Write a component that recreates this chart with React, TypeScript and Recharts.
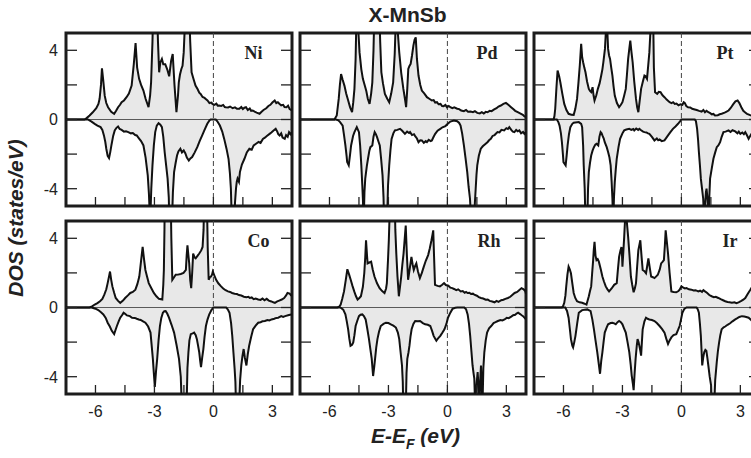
import React from 'react';
import { ComposedChart, Area, Line, XAxis, YAxis, ReferenceLine, ReferenceArea } from 'recharts';

type Pt = [number, number];

// ---------- data: [E - E_F (eV), DOS (states/eV)] ----------
const niUp: Pt[] = [[-7.5,0],[-6.56,0],[-6.45,0.08],[-6.3,0.23],[-6.15,0.4],[-5.96,0.65],[-5.85,0.9],[-5.79,1.2],[-5.72,2.0],[-5.67,2.96],[-5.6,2.2],[-5.53,1.38],[-5.45,0.95],[-5.36,0.71],[-5.2,0.45],[-5.05,0.33],[-4.95,0.5],[-4.85,0.71],[-4.75,0.85],[-4.67,1.0],[-4.55,1.1],[-4.42,1.29],[-4.3,1.5],[-4.16,1.96],[-4.05,3.2],[-3.96,4.42],[-3.88,3.0],[-3.78,2.35],[-3.68,2.0],[-3.56,1.67],[-3.45,1.2],[-3.3,0.71],[-3.22,1.4],[-3.17,2.15],[-3.1,4.5],[-3.05,7],[-2.88,7],[-2.82,4.5],[-2.76,2.73],[-2.7,3.3],[-2.62,3.5],[-2.55,3.2],[-2.45,3.2],[-2.35,2.9],[-2.25,2.5],[-2.15,3.4],[-2.07,3.79],[-1.98,2.0],[-1.88,0.42],[-1.8,1.4],[-1.76,2.15],[-1.7,2.6],[-1.63,2.92],[-1.57,3.1],[-1.51,3.88],[-1.45,5.5],[-1.39,7],[-1.25,7],[-1.18,4.5],[-1.11,2.73],[-1.0,2.3],[-0.91,1.96],[-0.8,1.75],[-0.72,1.55],[-0.65,1.48],[-0.55,1.3],[-0.45,1.25],[-0.39,1.19],[-0.3,1.1],[-0.2,0.95],[-0.1,0.98],[-0.05,0.9],[0.05,0.85],[0.15,0.92],[0.22,0.8],[0.29,0.81],[0.4,0.78],[0.5,0.84],[0.58,0.72],[0.63,0.71],[0.75,0.7],[0.85,0.75],[0.98,0.65],[1.1,0.7],[1.2,0.62],[1.32,0.62],[1.42,0.72],[1.5,0.6],[1.58,0.68],[1.66,0.71],[1.75,0.55],[1.85,0.64],[1.92,0.5],[2.0,0.52],[2.1,0.45],[2.2,0.4],[2.35,0.33],[2.45,0.45],[2.55,0.55],[2.69,0.65],[2.8,0.78],[2.9,0.85],[3.0,0.98],[3.12,1.1],[3.2,0.95],[3.28,1.0],[3.37,0.9],[3.45,0.82],[3.55,0.85],[3.62,0.72],[3.72,0.71],[3.8,0.8],[3.88,0.6],[4.0,0.52]];
const niDown: Pt[] = [[-7.5,0],[-6.39,0],[-6.2,-0.12],[-6.04,-0.25],[-5.9,-0.35],[-5.74,-0.44],[-5.65,-0.6],[-5.57,-0.92],[-5.5,-1.3],[-5.45,-1.69],[-5.38,-2.1],[-5.31,-2.23],[-5.25,-1.9],[-5.19,-1.5],[-5.1,-0.95],[-5.02,-0.63],[-4.93,-0.48],[-4.85,-0.4],[-4.77,-0.55],[-4.67,-0.6],[-4.55,-0.7],[-4.45,-0.68],[-4.33,-0.73],[-4.2,-0.8],[-4.1,-0.78],[-3.98,-0.9],[-3.9,-0.92],[-3.78,-1.1],[-3.68,-1.25],[-3.56,-1.5],[-3.45,-2.2],[-3.34,-3.23],[-3.28,-4.3],[-3.22,-6],[-3.16,-4.0],[-3.1,-2.65],[-3.03,-1.5],[-2.96,-0.73],[-2.88,-0.35],[-2.79,-0.21],[-2.7,-0.3],[-2.62,-0.44],[-2.55,-1.0],[-2.48,-1.88],[-2.4,-2.7],[-2.33,-3.42],[-2.27,-4.5],[-2.24,-6],[-2.11,-6],[-2.06,-4.2],[-2.0,-3.04],[-1.92,-2.5],[-1.85,-2.08],[-1.78,-1.85],[-1.68,-1.69],[-1.6,-1.9],[-1.51,-1.79],[-1.43,-1.95],[-1.35,-2.2],[-1.25,-2.37],[-1.17,-2.25],[-1.08,-2.17],[-0.95,-1.9],[-0.82,-1.6],[-0.7,-1.25],[-0.57,-0.92],[-0.45,-0.6],[-0.31,-0.25],[-0.2,-0.05],[-0.14,0],[0.12,0],[0.2,-0.1],[0.33,-0.35],[0.45,-0.7],[0.55,-1.12],[0.67,-1.7],[0.77,-2.27],[0.84,-3.1],[0.89,-4.0],[0.94,-6],[1.06,-6],[1.1,-4.8],[1.15,-4.0],[1.19,-3.6],[1.23,-3.42],[1.3,-3.6],[1.35,-3.04],[1.45,-2.6],[1.58,-2.27],[1.7,-1.9],[1.83,-1.69],[1.95,-1.75],[2.05,-1.5],[2.17,-1.4],[2.3,-1.3],[2.4,-1.35],[2.52,-1.12],[2.62,-1.05],[2.72,-0.95],[2.86,-0.83],[2.95,-0.75],[3.05,-0.65],[3.17,-0.54],[3.25,-0.7],[3.3,-0.85],[3.37,-0.92],[3.45,-0.8],[3.52,-1.05],[3.63,-1.12],[3.7,-0.9],[3.78,-1.0],[3.85,-0.73],[3.93,-0.85],[4.0,-0.73]];

const pdUp: Pt[] = [[-7.5,0],[-5.75,0],[-5.63,0.23],[-5.53,1.19],[-5.47,2.0],[-5.41,2.63],[-5.33,2.3],[-5.24,1.96],[-5.15,1.5],[-5.07,1.19],[-4.95,0.7],[-4.85,0.42],[-4.79,1.0],[-4.73,1.77],[-4.67,3.5],[-4.61,7],[-4.55,5.5],[-4.47,3.88],[-4.38,2.9],[-4.3,2.35],[-4.2,1.95],[-4.13,1.67],[-4.05,1.2],[-3.96,0.9],[-3.88,1.5],[-3.82,2.15],[-3.76,4],[-3.7,7],[-3.48,7],[-3.42,4.5],[-3.36,2.73],[-3.28,2.1],[-3.18,1.48],[-3.06,1.2],[-2.96,1.0],[-2.86,1.5],[-2.76,2.15],[-2.68,3.8],[-2.59,7],[-2.52,5],[-2.45,3.88],[-2.35,2.7],[-2.24,1.77],[-2.16,1.2],[-2.1,0.71],[-2.04,1.8],[-1.99,2.92],[-1.93,3.1],[-1.87,3.21],[-1.8,3.7],[-1.73,4.27],[-1.67,4.6],[-1.61,4.75],[-1.55,3.5],[-1.47,2.54],[-1.38,2.0],[-1.3,1.67],[-1.17,1.5],[-1.04,1.29],[-0.92,1.2],[-0.79,1.1],[-0.7,1.12],[-0.62,0.98],[-0.53,1.0],[-0.45,0.88],[-0.35,0.9],[-0.27,0.78],[-0.19,0.77],[-0.1,0.84],[-0.02,0.7],[0.07,0.78],[0.15,0.71],[0.25,0.65],[0.35,0.7],[0.5,0.62],[0.6,0.6],[0.7,0.52],[0.84,0.48],[0.95,0.55],[1.05,0.45],[1.18,0.46],[1.3,0.42],[1.4,0.48],[1.52,0.38],[1.65,0.35],[1.75,0.42],[1.85,0.35],[1.95,0.44],[2.04,0.42],[2.15,0.5],[2.25,0.48],[2.38,0.58],[2.5,0.65],[2.6,0.75],[2.72,0.81],[2.85,0.9],[2.98,0.96],[3.1,0.85],[3.24,0.71],[3.35,0.6],[3.45,0.5],[3.58,0.42],[3.7,0.35],[3.84,0.27],[3.92,0.18],[4.0,0.15]];
const pdDown: Pt[] = [[-7.5,0],[-5.67,0],[-5.55,-0.05],[-5.46,-0.15],[-5.33,-0.35],[-5.26,-0.9],[-5.19,-1.5],[-5.13,-2.1],[-5.1,-2.46],[-5.02,-2.65],[-4.96,-2.1],[-4.9,-1.5],[-4.8,-0.95],[-4.73,-0.73],[-4.61,-0.44],[-4.5,-0.73],[-4.44,-1.5],[-4.38,-2.65],[-4.33,-3.8],[-4.3,-4.58],[-4.26,-6],[-4.22,-4.2],[-4.18,-3.42],[-4.1,-2.7],[-4.04,-2.27],[-3.97,-1.8],[-3.92,-1.6],[-3.82,-1.5],[-3.76,-1.0],[-3.7,-0.73],[-3.64,-0.85],[-3.58,-1.02],[-3.5,-1.3],[-3.44,-1.5],[-3.37,-2.3],[-3.3,-3.23],[-3.25,-4.5],[-3.22,-6],[-3.07,-6],[-3.02,-3.8],[-2.96,-2.65],[-2.9,-1.8],[-2.84,-1.12],[-2.75,-0.8],[-2.67,-0.63],[-2.55,-0.6],[-2.41,-0.54],[-2.3,-0.65],[-2.16,-0.83],[-2.05,-0.7],[-1.95,-0.78],[-1.9,-0.73],[-1.8,-0.9],[-1.7,-0.85],[-1.64,-0.96],[-1.55,-1.1],[-1.47,-1.31],[-1.38,-1.2],[-1.3,-1.21],[-1.2,-1.35],[-1.1,-1.25],[-1.04,-1.31],[-0.95,-1.18],[-0.85,-1.25],[-0.79,-1.21],[-0.7,-1.0],[-0.62,-0.83],[-0.5,-0.65],[-0.36,-0.54],[-0.25,-0.45],[-0.1,-0.38],[0.02,-0.25],[0.15,-0.12],[0.33,-0.06],[0.5,-0.1],[0.6,-0.2],[0.67,-0.35],[0.75,-0.8],[0.84,-1.5],[0.92,-2.2],[1.01,-3.04],[1.08,-3.9],[1.15,-4.58],[1.22,-6],[1.35,-6],[1.4,-4.8],[1.44,-4.0],[1.48,-3.2],[1.52,-2.65],[1.6,-2.1],[1.7,-1.69],[1.8,-1.55],[1.95,-1.4],[2.05,-1.3],[2.12,-1.2],[2.21,-1.12],[2.3,-0.95],[2.4,-0.9],[2.55,-0.73],[2.65,-0.75],[2.75,-0.6],[2.89,-0.63],[3.0,-0.5],[3.08,-0.55],[3.15,-0.44],[3.25,-0.6],[3.33,-0.7],[3.41,-0.73],[3.5,-0.6],[3.58,-0.68],[3.66,-0.63],[3.75,-0.8],[3.85,-0.72],[3.92,-0.83],[4.0,-0.73]];

const ptUp: Pt[] = [[-7.5,0],[-6.5,0],[-6.46,0.2],[-6.42,0.62],[-6.36,1.8],[-6.3,2.83],[-6.22,2.5],[-6.16,2.15],[-6.06,1.5],[-5.96,0.9],[-5.85,0.55],[-5.74,0.33],[-5.6,0.28],[-5.48,0.27],[-5.4,0.6],[-5.31,1.19],[-5.24,2.1],[-5.17,3.12],[-5.1,4.37],[-5.05,3.6],[-5.0,3.31],[-4.94,3.0],[-4.88,2.73],[-4.8,2.2],[-4.71,1.77],[-4.65,1.65],[-4.59,1.58],[-4.52,1.87],[-4.47,1.4],[-4.42,1.1],[-4.33,1.4],[-4.25,1.77],[-4.16,2.1],[-4.08,2.54],[-4.02,2.9],[-3.97,3.31],[-3.89,4.08],[-3.8,6],[-3.73,4.08],[-3.68,3.7],[-3.63,3.5],[-3.57,3.0],[-3.51,2.54],[-3.45,1.9],[-3.39,1.38],[-3.28,0.95],[-3.17,0.71],[-3.08,0.85],[-3.0,1.0],[-2.92,1.35],[-2.83,1.77],[-2.77,2.6],[-2.71,3.5],[-2.65,4.1],[-2.6,4.56],[-2.54,3.9],[-2.48,3.31],[-2.4,2.2],[-2.31,1.19],[-2.25,0.7],[-2.19,0.42],[-2.12,1.1],[-2.05,1.77],[-1.96,2.2],[-1.88,2.54],[-1.82,2.5],[-1.75,2.35],[-1.69,3.1],[-1.63,3.88],[-1.58,5],[-1.54,7],[-1.45,7],[-1.4,3.0],[-1.34,1.58],[-1.23,1.48],[-1.15,1.6],[-1.06,1.58],[-0.96,1.4],[-0.86,1.29],[-0.75,1.15],[-0.6,1.0],[-0.5,0.95],[-0.42,1.0],[-0.34,0.9],[-0.25,0.92],[-0.15,0.82],[-0.05,0.88],[0.05,0.85],[0.12,1.0],[0.17,0.96],[0.25,0.78],[0.34,0.71],[0.45,0.7],[0.55,0.62],[0.68,0.58],[0.78,0.55],[0.9,0.5],[1.03,0.46],[1.12,0.55],[1.2,0.42],[1.28,0.5],[1.37,0.42],[1.45,0.38],[1.55,0.3],[1.63,0.32],[1.71,0.23],[1.85,0.25],[1.95,0.3],[2.05,0.33],[2.2,0.4],[2.3,0.45],[2.4,0.52],[2.5,0.65],[2.65,0.9],[2.75,1.05],[2.86,1.1],[2.95,0.95],[3.05,0.71],[3.15,0.5],[3.25,0.4],[3.34,0.33],[3.5,0.25],[3.66,0.19],[3.8,0.22],[4.0,0.2]];
const ptDown: Pt[] = [[-7.5,0],[-6.34,0],[-6.26,-0.15],[-6.2,-0.35],[-6.13,-0.8],[-6.08,-1.31],[-6.03,-2.0],[-6.0,-2.46],[-5.89,-2.65],[-5.84,-2.1],[-5.79,-1.5],[-5.72,-0.85],[-5.65,-0.44],[-5.55,-0.25],[-5.48,-0.19],[-5.22,-0.15],[-5.1,-0.25],[-5.05,-0.44],[-5.0,-1.5],[-4.97,-2.65],[-4.92,-4],[-4.88,-6],[-4.79,-6],[-4.75,-4.0],[-4.71,-3.04],[-4.65,-2.5],[-4.59,-2.08],[-4.52,-1.8],[-4.45,-1.6],[-4.38,-1.45],[-4.32,-1.4],[-4.23,-1.5],[-4.17,-1.0],[-4.11,-0.73],[-4.06,-0.8],[-4.02,-0.92],[-3.95,-1.1],[-3.9,-1.31],[-3.8,-1.6],[-3.73,-1.88],[-3.66,-2.2],[-3.6,-2.65],[-3.55,-3.6],[-3.51,-4.58],[-3.47,-6],[-3.43,-4.5],[-3.39,-3.62],[-3.34,-2.9],[-3.29,-2.27],[-3.2,-1.6],[-3.12,-1.12],[-3.0,-0.8],[-2.91,-0.63],[-2.8,-0.58],[-2.65,-0.54],[-2.55,-0.6],[-2.45,-0.55],[-2.4,-0.63],[-2.3,-0.52],[-2.2,-0.6],[-2.14,-0.54],[-2.05,-0.62],[-1.95,-0.7],[-1.88,-0.73],[-1.78,-0.75],[-1.7,-0.8],[-1.63,-0.83],[-1.5,-1.0],[-1.37,-1.21],[-1.25,-1.1],[-1.18,-1.2],[-1.11,-1.15],[-1.0,-1.25],[-0.86,-1.21],[-0.76,-1.05],[-0.68,-0.92],[-0.55,-0.72],[-0.43,-0.54],[-0.3,-0.4],[-0.17,-0.25],[-0.05,-0.08],[0.0,0],[0.68,0],[0.74,-0.1],[0.8,-0.54],[0.85,-1.2],[0.89,-1.88],[0.94,-2.6],[0.99,-3.42],[1.05,-4.0],[1.11,-4.58],[1.16,-6],[1.2,-5],[1.25,-4.2],[1.28,-4.0],[1.33,-4.6],[1.38,-6],[1.42,-4.5],[1.46,-3.42],[1.55,-2.8],[1.63,-2.27],[1.72,-1.9],[1.8,-1.6],[1.88,-1.5],[1.97,-1.31],[2.05,-1.0],[2.14,-0.73],[2.25,-0.7],[2.4,-0.63],[2.5,-0.72],[2.6,-0.62],[2.74,-0.69],[2.85,-0.8],[2.92,-0.7],[3.0,-0.83],[3.1,-0.75],[3.18,-0.85],[3.25,-0.73],[3.33,-0.9],[3.42,-1.12],[3.5,-0.95],[3.58,-0.8],[3.66,-0.83],[3.8,-0.75],[4.0,-0.73]];

const coUp: Pt[] = [[-7.5,0],[-6.3,0],[-6.15,0.08],[-6.04,0.17],[-5.9,0.25],[-5.77,0.36],[-5.65,0.5],[-5.55,0.74],[-5.45,1.05],[-5.38,1.41],[-5.31,1.8],[-5.26,2.08],[-5.2,1.6],[-5.14,1.22],[-5.05,0.85],[-4.97,0.55],[-4.85,0.38],[-4.74,0.27],[-4.6,0.4],[-4.49,0.55],[-4.35,0.7],[-4.23,0.84],[-4.1,0.9],[-3.97,1.03],[-3.87,1.35],[-3.77,1.79],[-3.68,2.7],[-3.6,3.5],[-3.53,2.8],[-3.46,2.17],[-3.38,1.8],[-3.29,1.41],[-3.15,1.1],[-3.03,0.84],[-2.9,0.65],[-2.77,0.5],[-2.6,0.46],[-2.55,1.3],[-2.52,2.17],[-2.49,4.5],[-2.47,7],[-2.18,7],[-2.14,4.0],[-2.09,1.6],[-2.0,1.75],[-1.92,1.89],[-1.8,1.9],[-1.66,1.94],[-1.52,2.0],[-1.4,2.17],[-1.36,3.0],[-1.32,3.6],[-1.27,3.0],[-1.23,2.55],[-1.18,1.6],[-1.13,1.12],[-1.08,2.0],[-1.03,3.12],[-0.96,2.9],[-0.9,2.84],[-0.8,3.0],[-0.72,3.12],[-0.62,3.3],[-0.55,3.5],[-0.5,4.5],[-0.46,7],[-0.34,7],[-0.29,3.5],[-0.24,1.6],[-0.18,1.75],[-0.12,1.79],[-0.07,1.9],[-0.03,2.08],[0.05,1.85],[0.14,1.6],[0.25,1.4],[0.39,1.22],[0.5,1.1],[0.62,1.0],[0.74,0.93],[0.85,0.9],[0.95,0.84],[1.08,0.8],[1.2,0.78],[1.3,0.72],[1.42,0.69],[1.55,0.62],[1.68,0.6],[1.78,0.62],[1.85,0.55],[1.95,0.58],[2.05,0.48],[2.15,0.52],[2.28,0.46],[2.4,0.44],[2.5,0.52],[2.6,0.42],[2.71,0.5],[2.82,0.4],[2.95,0.35],[3.05,0.3],[3.13,0.27],[3.25,0.35],[3.35,0.4],[3.48,0.46],[3.6,0.55],[3.7,0.7],[3.77,0.84],[3.88,0.8],[3.95,0.7],[4.0,0.69]];
const coDown: Pt[] = [[-7.5,0],[-6.2,0],[-6.0,-0.07],[-5.86,-0.15],[-5.72,-0.28],[-5.6,-0.4],[-5.48,-0.6],[-5.38,-0.88],[-5.27,-1.1],[-5.17,-1.35],[-5.05,-1.54],[-4.98,-1.3],[-4.91,-1.07],[-4.82,-0.8],[-4.74,-0.59],[-4.65,-0.45],[-4.57,-0.3],[-4.48,-0.38],[-4.4,-0.46],[-4.25,-0.5],[-4.14,-0.59],[-4.0,-0.6],[-3.9,-0.65],[-3.8,-0.69],[-3.7,-0.72],[-3.58,-0.8],[-3.46,-0.88],[-3.32,-1.1],[-3.2,-1.45],[-3.14,-2.2],[-3.08,-2.97],[-3.03,-3.8],[-2.98,-4.59],[-2.92,-3.7],[-2.86,-2.97],[-2.79,-1.9],[-2.72,-1.07],[-2.65,-0.6],[-2.57,-0.3],[-2.5,-0.22],[-2.43,-0.21],[-2.35,-0.35],[-2.26,-0.59],[-2.13,-1.0],[-2.0,-1.45],[-1.87,-2.2],[-1.75,-2.97],[-1.66,-4.0],[-1.6,-6],[-1.37,-6],[-1.32,-3.5],[-1.27,-2.59],[-1.22,-1.9],[-1.15,-1.54],[-1.05,-1.5],[-0.98,-1.45],[-0.9,-1.6],[-0.84,-1.83],[-0.78,-2.2],[-0.72,-2.59],[-0.67,-3.1],[-0.63,-3.45],[-0.57,-2.9],[-0.51,-2.4],[-0.45,-1.7],[-0.38,-1.07],[-0.3,-0.7],[-0.21,-0.4],[-0.1,-0.15],[0.0,0],[0.65,0],[0.73,-0.1],[0.82,-0.3],[0.9,-0.9],[0.96,-1.64],[1.02,-2.6],[1.08,-3.54],[1.12,-4.3],[1.16,-6],[1.3,-6],[1.36,-4.2],[1.42,-3.35],[1.48,-2.8],[1.54,-2.4],[1.6,-2.9],[1.68,-3.35],[1.75,-2.7],[1.82,-2.21],[1.92,-1.7],[2.02,-1.26],[2.15,-1.05],[2.28,-0.88],[2.4,-0.85],[2.5,-0.8],[2.62,-0.78],[2.75,-0.72],[2.85,-0.75],[2.96,-0.69],[3.1,-0.65],[3.2,-0.6],[3.3,-0.59],[3.45,-0.5],[3.55,-0.55],[3.65,-0.5],[3.8,-0.45],[3.9,-0.42],[4.0,-0.4]];

const rhUp: Pt[] = [[-7.5,0],[-5.6,0],[-5.5,0.05],[-5.43,0.17],[-5.35,0.5],[-5.26,0.93],[-5.17,1.6],[-5.09,2.21],[-5.0,1.9],[-4.92,1.6],[-4.83,1.25],[-4.74,0.93],[-4.65,0.65],[-4.57,0.46],[-4.48,0.55],[-4.4,0.65],[-4.3,1.2],[-4.23,1.98],[-4.18,2.9],[-4.14,3.89],[-4.09,3.0],[-4.06,2.55],[-3.97,2.6],[-3.88,2.65],[-3.8,2.2],[-3.71,1.79],[-3.58,1.4],[-3.45,1.12],[-3.32,0.95],[-3.2,0.84],[-3.12,1.1],[-3.08,1.41],[-3.02,2.8],[-2.98,3.89],[-2.95,5],[-2.91,7],[-2.69,7],[-2.65,4.5],[-2.6,3.12],[-2.54,1.8],[-2.47,0.65],[-2.41,1.2],[-2.35,1.79],[-2.29,2.5],[-2.23,3.12],[-2.17,4.0],[-2.12,4.74],[-2.06,3.0],[-2.0,1.6],[-1.92,2.2],[-1.83,2.93],[-1.77,2.5],[-1.71,2.17],[-1.64,2.4],[-1.58,2.55],[-1.5,2.1],[-1.4,1.7],[-1.3,2.0],[-1.2,2.36],[-1.1,2.7],[-0.98,3.03],[-0.9,3.4],[-0.81,3.89],[-0.76,4.2],[-0.72,4.46],[-0.68,3.0],[-0.63,1.31],[-0.5,1.25],[-0.38,1.22],[-0.28,1.3],[-0.17,1.41],[-0.08,1.3],[0.05,1.26],[0.15,1.15],[0.25,1.12],[0.34,1.07],[0.45,1.0],[0.55,1.05],[0.68,0.93],[0.78,0.95],[0.88,0.85],[0.95,0.9],[1.03,0.84],[1.12,0.85],[1.2,0.78],[1.3,0.8],[1.37,0.74],[1.5,0.68],[1.6,0.6],[1.71,0.55],[1.82,0.52],[1.95,0.45],[2.05,0.46],[2.15,0.38],[2.28,0.35],[2.4,0.3],[2.5,0.38],[2.6,0.32],[2.74,0.42],[2.85,0.45],[2.95,0.5],[3.08,0.55],[3.2,0.62],[3.3,0.72],[3.42,0.84],[3.55,0.9],[3.65,1.0],[3.77,1.12],[3.88,1.05],[3.97,0.93],[4.0,0.8]];
const rhDown: Pt[] = [[-7.5,0],[-5.45,0],[-5.3,-0.12],[-5.19,-0.4],[-5.12,-0.8],[-5.05,-1.26],[-4.99,-1.8],[-4.93,-2.21],[-4.85,-2.15],[-4.79,-2.02],[-4.73,-1.6],[-4.67,-1.07],[-4.58,-0.75],[-4.5,-0.5],[-4.42,-0.42],[-4.33,-0.4],[-4.25,-0.5],[-4.16,-0.69],[-4.08,-1.2],[-3.99,-1.83],[-3.92,-2.4],[-3.85,-2.97],[-3.78,-3.96],[-3.72,-3.4],[-3.68,-2.97],[-3.62,-2.3],[-3.56,-1.83],[-3.48,-1.4],[-3.39,-1.07],[-3.25,-0.95],[-3.13,-0.88],[-3.0,-0.9],[-2.88,-0.97],[-2.75,-1.05],[-2.62,-1.16],[-2.52,-1.45],[-2.45,-1.83],[-2.38,-2.6],[-2.31,-3.35],[-2.27,-4.3],[-2.24,-6],[-2.12,-6],[-2.08,-3.8],[-2.04,-2.97],[-1.98,-2.6],[-1.93,-2.21],[-1.88,-1.7],[-1.82,-1.26],[-1.73,-0.95],[-1.64,-0.78],[-1.5,-0.8],[-1.39,-0.78],[-1.25,-0.9],[-1.13,-0.97],[-1.0,-1.0],[-0.87,-1.07],[-0.78,-1.35],[-0.7,-1.64],[-0.62,-1.8],[-0.56,-1.92],[-0.45,-1.75],[-0.36,-1.64],[-0.25,-1.45],[-0.15,-1.26],[-0.05,-0.95],[0.03,-0.59],[0.15,-0.3],[0.26,-0.08],[0.4,-0.02],[0.51,0],[0.86,0],[0.95,-0.1],[1.03,-0.4],[1.1,-0.95],[1.16,-1.64],[1.22,-2.5],[1.28,-3.35],[1.33,-3.8],[1.37,-4.11],[1.42,-6],[1.48,-4.5],[1.54,-3.73],[1.58,-4.5],[1.62,-6],[1.67,-4.2],[1.71,-3.35],[1.75,-4.5],[1.78,-6],[1.83,-3.5],[1.88,-2.59],[1.95,-1.9],[2.02,-1.45],[2.12,-1.2],[2.23,-1.07],[2.35,-0.9],[2.45,-0.85],[2.57,-0.78],[2.7,-0.72],[2.8,-0.75],[2.91,-0.69],[3.02,-0.6],[3.12,-0.62],[3.25,-0.53],[3.35,-0.45],[3.45,-0.42],[3.52,-0.35],[3.6,-0.3],[3.7,-0.38],[3.78,-0.45],[3.85,-0.5],[3.93,-0.6],[4.0,-0.69]];

const irUp: Pt[] = [[-7.5,0],[-6.08,0],[-6.02,0.08],[-5.96,0.27],[-5.9,0.7],[-5.86,1.22],[-5.8,1.9],[-5.74,2.36],[-5.68,2.2],[-5.62,1.98],[-5.55,1.4],[-5.48,0.84],[-5.4,0.55],[-5.31,0.36],[-5.18,0.3],[-5.05,0.27],[-4.93,0.22],[-4.83,0.17],[-4.77,0.4],[-4.71,0.65],[-4.65,0.95],[-4.59,1.22],[-4.54,2.0],[-4.49,2.74],[-4.46,3.3],[-4.42,3.79],[-4.37,3.0],[-4.32,2.74],[-4.26,2.8],[-4.2,2.65],[-4.1,2.2],[-4.02,1.79],[-3.94,1.5],[-3.85,1.22],[-3.76,1.05],[-3.68,0.93],[-3.55,1.1],[-3.42,1.31],[-3.29,1.41],[-3.23,2.2],[-3.17,2.93],[-3.1,3.3],[-3.05,3.5],[-3.02,3.0],[-3.0,2.36],[-2.95,3.3],[-2.91,4.08],[-2.87,5],[-2.83,7],[-2.78,5],[-2.71,4.08],[-2.64,3.0],[-2.57,1.79],[-2.5,1.3],[-2.43,0.88],[-2.37,1.1],[-2.31,1.41],[-2.25,2.4],[-2.19,3.31],[-2.14,3.6],[-2.09,3.89],[-2.03,3.0],[-1.97,2.17],[-1.88,2.1],[-1.8,1.98],[-1.74,2.4],[-1.68,2.84],[-1.61,2.3],[-1.54,1.79],[-1.45,1.75],[-1.37,1.7],[-1.28,1.8],[-1.2,1.89],[-1.1,2.2],[-1.03,2.55],[-0.95,2.65],[-0.89,2.74],[-0.84,3.6],[-0.8,4.46],[-0.74,3.8],[-0.68,3.12],[-0.6,2.0],[-0.51,0.93],[-0.4,0.9],[-0.26,0.88],[-0.15,0.95],[-0.09,1.03],[0.0,1.22],[0.1,1.15],[0.18,1.1],[0.26,1.12],[0.38,1.05],[0.51,1.03],[0.62,0.98],[0.72,1.0],[0.86,0.93],[0.95,0.97],[1.05,0.9],[1.12,1.0],[1.2,0.93],[1.3,0.85],[1.42,0.72],[1.54,0.65],[1.65,0.6],[1.75,0.62],[1.88,0.55],[2.0,0.48],[2.12,0.42],[2.23,0.36],[2.35,0.32],[2.45,0.3],[2.57,0.27],[2.7,0.3],[2.8,0.25],[2.91,0.3],[3.05,0.38],[3.15,0.45],[3.25,0.55],[3.38,0.8],[3.51,1.03],[3.6,1.2],[3.66,1.31],[3.8,1.5],[3.9,1.6],[4.0,1.7]];
const irDown: Pt[] = [[-7.5,0],[-5.91,0],[-5.82,-0.2],[-5.74,-0.59],[-5.68,-1.2],[-5.62,-1.83],[-5.55,-2.2],[-5.51,-2.3],[-5.45,-2.0],[-5.39,-1.64],[-5.3,-0.9],[-5.22,-0.3],[-5.05,-0.15],[-4.79,-0.11],[-4.62,-0.21],[-4.53,-0.7],[-4.45,-1.26],[-4.37,-1.9],[-4.28,-2.59],[-4.2,-3.3],[-4.14,-3.83],[-4.08,-3.1],[-4.02,-2.59],[-3.95,-1.9],[-3.9,-1.45],[-3.8,-1.15],[-3.73,-0.97],[-3.6,-0.9],[-3.51,-0.88],[-3.42,-0.92],[-3.34,-0.97],[-3.25,-0.85],[-3.17,-0.78],[-3.08,-0.85],[-3.0,-0.97],[-2.92,-1.2],[-2.83,-1.45],[-2.74,-2.0],[-2.65,-2.59],[-2.58,-3.3],[-2.53,-3.92],[-2.47,-4.4],[-2.43,-4.78],[-2.38,-3.8],[-2.33,-2.97],[-2.27,-2.2],[-2.23,-1.83],[-2.18,-2.0],[-2.14,-2.21],[-2.09,-2.5],[-2.05,-2.78],[-2.01,-2.0],[-1.97,-1.26],[-1.88,-0.8],[-1.8,-0.59],[-1.72,-0.65],[-1.63,-0.69],[-1.5,-0.72],[-1.37,-0.78],[-1.25,-0.9],[-1.11,-1.07],[-0.98,-1.25],[-0.86,-1.45],[-0.77,-1.8],[-0.68,-2.11],[-0.6,-1.9],[-0.51,-1.73],[-0.4,-1.6],[-0.26,-1.54],[-0.17,-1.3],[-0.09,-1.07],[-0.02,-0.7],[0.05,-0.3],[0.15,-0.08],[0.26,0],[0.77,0],[0.83,-0.1],[0.89,-0.3],[0.94,-0.9],[0.99,-1.64],[1.03,-2.6],[1.06,-3.35],[1.11,-2.9],[1.16,-2.59],[1.22,-2.45],[1.27,-2.5],[1.32,-2.9],[1.37,-3.35],[1.44,-4.0],[1.51,-4.5],[1.55,-6],[1.66,-6],[1.72,-4.2],[1.8,-3.16],[1.86,-2.5],[1.92,-2.02],[1.98,-1.6],[2.05,-1.26],[2.15,-1.15],[2.23,-1.1],[2.35,-1.0],[2.48,-0.91],[2.6,-0.8],[2.74,-0.69],[2.85,-0.62],[2.95,-0.55],[3.08,-0.5],[3.2,-0.52],[3.3,-0.55],[3.42,-0.59],[3.55,-0.72],[3.66,-0.88],[3.8,-0.85],[4.0,-0.8]];

const elements = ['Ni', 'Pd', 'Pt', 'Co', 'Rh', 'Ir'];
const upSeries = [niUp, pdUp, ptUp, coUp, rhUp, irUp];
const downSeries = [niDown, pdDown, ptDown, coDown, rhDown, irDown];

const xTicks = [-6, -4.5, -3, -1.5, 0, 1.5, 3];
const xTickLabels = [-6, -3, 0, 3];
const yTicks = [-4, -2, 0, 2, 4];
const yTickLabels = [-4, 0, 4];
const X_DOMAIN: [number, number] = [-7.5, 4];
const Y_DOMAIN: [number, number] = [-5, 5];

// ---------- layout (page pixels) ----------
const COL_LEFT = [65.5, 299.5, 533.5];
const ROW_TOP = [33, 221];
const PLOT_W = 226;
const PLOT_H = 173;
const AX_W = 40;
const TOP_M = 10;
const BOT_H = 30;
const LABEL_INSET = [29, 28, 26, 22, 25, 22];

const FRAME = '#1c1c1c';
const INK = '#222';
const FILL = '#e8e8e8';
const SANS = '"Liberation Sans", Arial, Helvetica, sans-serif';
const SERIF = '"Liberation Serif", "Times New Roman", serif';

function buildRows(up: Pt[], down: Pt[]) {
  const rows = [
    ...up.map(([e, v]) => ({ e, up: v as number | null, down: null as number | null })),
    ...down.map(([e, v]) => ({ e, up: null as number | null, down: v as number | null })),
  ];
  rows.sort((a, b) => a.e - b.e);
  return rows;
}

const X_TICK_LEN = 9;
const Y_TICK_LEN = 11;

function Panel({ idx }: { idx: number }) {
  const col = idx % 3;
  const row = Math.floor(idx / 3);
  const rows = buildRows(upSeries[idx], downSeries[idx]);
  const showX = row === 1;
  const showY = col === 0;

  const bottomTick = (props: any) => {
    const { x, y, payload } = props;
    const v = payload.value;
    return (
      <g>
        <line x1={x} y1={y} x2={x} y2={y - X_TICK_LEN} stroke={INK} strokeWidth={1.3} />
        {showX && xTickLabels.includes(v) ? (
          <text x={x} y={y + 22.5} textAnchor="middle" fontFamily={SANS} fontSize={16} fill={INK}>{String(v)}</text>
        ) : null}
      </g>
    );
  };
  const topTick = (props: any) => {
    const { x, y } = props;
    return <line x1={x} y1={y} x2={x} y2={y + X_TICK_LEN} stroke={INK} strokeWidth={1.3} />;
  };
  const leftTick = (props: any) => {
    const { x, y, payload } = props;
    const v = payload.value;
    return (
      <g>
        <line x1={x} y1={y} x2={x + Y_TICK_LEN} y2={y} stroke={INK} strokeWidth={1.3} />
        {showY && yTickLabels.includes(v) ? (
          <text x={x - 8} y={y + 5.8} textAnchor="end" fontFamily={SANS} fontSize={16} fill={INK}>{String(v)}</text>
        ) : null}
      </g>
    );
  };
  const rightTick = (props: any) => {
    const { x, y } = props;
    return <line x1={x} y1={y} x2={x - Y_TICK_LEN} y2={y} stroke={INK} strokeWidth={1.3} />;
  };

  const axisCommon = { axisLine: false, tickLine: false, tickSize: 0, tickMargin: 0, interval: 0 as const, allowDataOverflow: true };

  return (
    <div style={{ position: 'absolute', left: COL_LEFT[col] - AX_W, top: ROW_TOP[row] - TOP_M }}>
      <ComposedChart
        width={PLOT_W + 2 * AX_W}
        height={PLOT_H + TOP_M + BOT_H}
        data={rows}
        margin={{ top: TOP_M, right: 0, bottom: 0, left: 0 }}
      >
        <XAxis xAxisId="b" dataKey="e" type="number" domain={X_DOMAIN} ticks={xTicks} orientation="bottom" height={BOT_H} tick={bottomTick} {...axisCommon} />
        <XAxis xAxisId="t" dataKey="e" type="number" domain={X_DOMAIN} ticks={xTicks} orientation="top" height={0} tick={topTick} {...axisCommon} />
        <YAxis yAxisId="l" type="number" domain={Y_DOMAIN} ticks={yTicks} orientation="left" width={AX_W} tick={leftTick} {...axisCommon} />
        <YAxis yAxisId="r" type="number" domain={Y_DOMAIN} ticks={yTicks} orientation="right" width={AX_W} tick={rightTick} {...axisCommon} />
        <Area xAxisId="b" yAxisId="l" type="linear" dataKey="up" connectNulls stroke="none" fill={FILL} fillOpacity={1} isAnimationActive={false} />
        <Area xAxisId="b" yAxisId="l" type="linear" dataKey="down" connectNulls stroke="none" fill={FILL} fillOpacity={1} isAnimationActive={false} />
        <ReferenceLine xAxisId="b" yAxisId="l" y={0} stroke="#5a5a5a" strokeWidth={1.2} />
        <ReferenceLine xAxisId="b" yAxisId="l" x={0} stroke="#444" strokeWidth={1} strokeDasharray="5 3" />
        <Line xAxisId="b" yAxisId="l" type="linear" dataKey="up" connectNulls stroke="#111" strokeWidth={2} dot={false} activeDot={false} isAnimationActive={false} />
        <Line xAxisId="b" yAxisId="l" type="linear" dataKey="down" connectNulls stroke="#111" strokeWidth={2} dot={false} activeDot={false} isAnimationActive={false} />
        <ReferenceArea xAxisId="b" yAxisId="l" x1={X_DOMAIN[0]} x2={X_DOMAIN[1]} y1={Y_DOMAIN[0]} y2={Y_DOMAIN[1]} fill="none" fillOpacity={0} stroke={FRAME} strokeWidth={3} ifOverflow="visible" />
      </ComposedChart>
    </div>
  );
}

export default function App() {
  return (
    <div style={{ position: 'absolute', left: 0, top: 0, width: 751, height: 458, overflow: 'hidden', background: '#fff' }}>
      {elements.map((_, i) => (
        <Panel key={i} idx={i} />
      ))}
      <svg width={751} height={458} style={{ position: 'absolute', left: 0, top: 0, pointerEvents: 'none' }}>
        <text x={407.5} y={22} textAnchor="middle" fontFamily={SANS} fontWeight="bold" fontSize={21} fill={INK}>X-MnSb</text>
        <text x={23.3} y={218} transform="rotate(-90, 23.3, 218)" textAnchor="middle" fontFamily={SANS} fontWeight="bold" fontStyle="italic" fontSize={21} fill={INK}>DOS (states/eV)</text>
        <text x={415.5} y={442.7} textAnchor="middle" fontFamily={SANS} fontWeight="bold" fontStyle="italic" fontSize={21} fill={INK}>
          E-E<tspan fontSize={14} dy={6}>F</tspan><tspan dy={-6}> (eV)</tspan>
        </text>
        {elements.map((name, i) => {
          const col = i % 3;
          const row = Math.floor(i / 3);
          return (
            <text key={name} x={COL_LEFT[col] + PLOT_W - LABEL_INSET[i]} y={ROW_TOP[row] + 26} textAnchor="end" fontFamily={SERIF} fontWeight="bold" fontSize={18} fill={INK}>{name}</text>
          );
        })}
      </svg>
    </div>
  );
}
